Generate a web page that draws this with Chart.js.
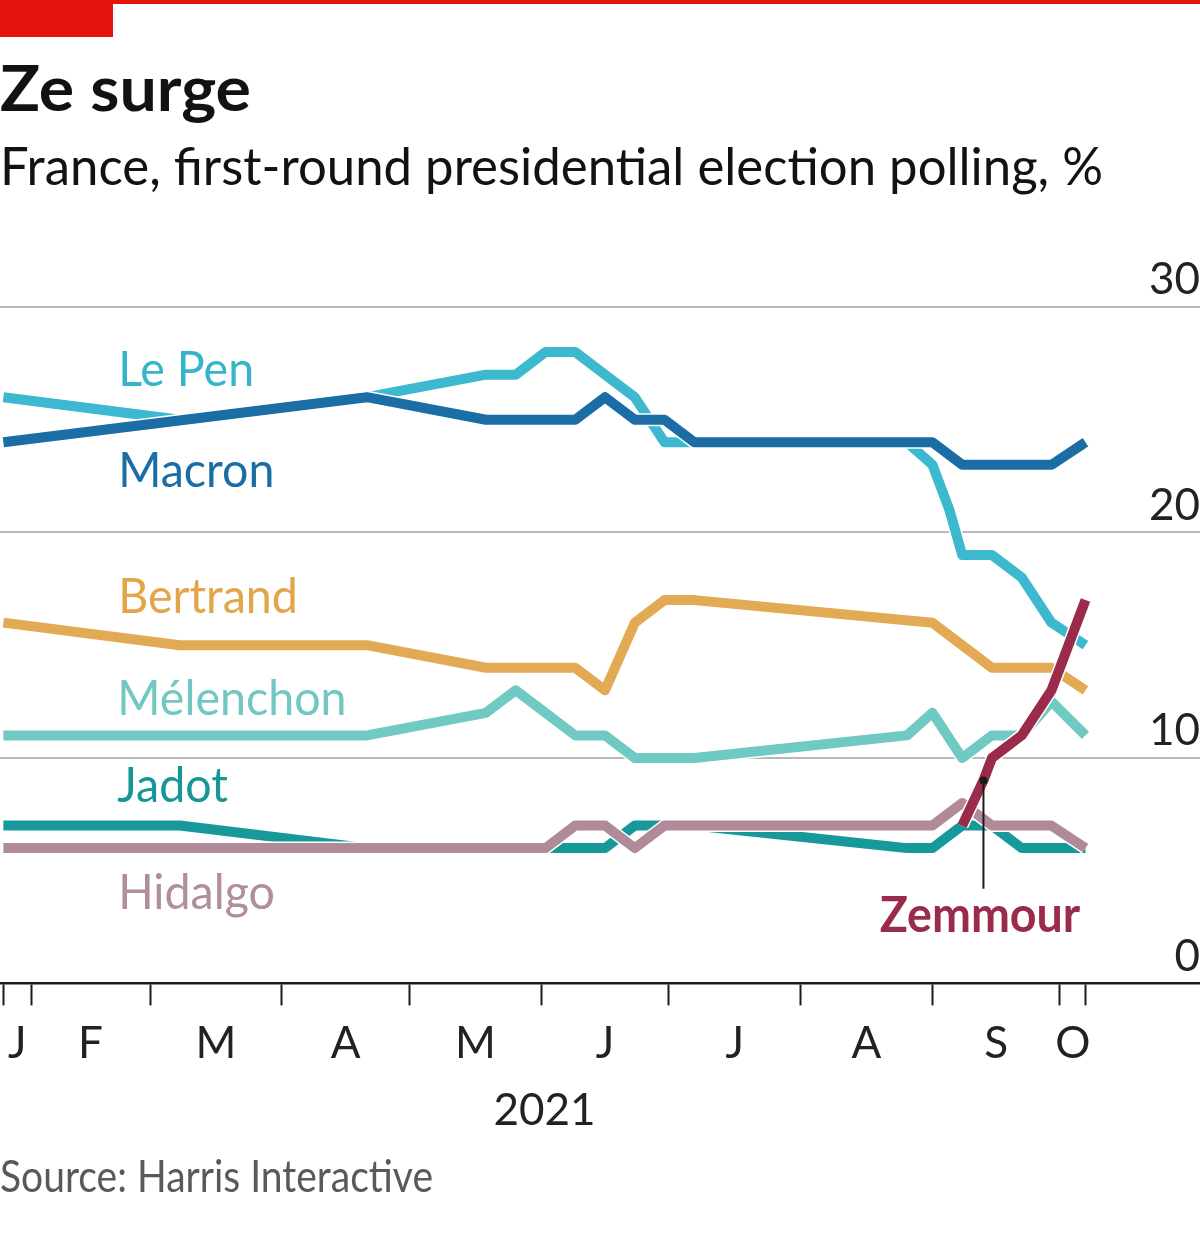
<!DOCTYPE html>
<html>
<head>
<meta charset="utf-8">
<script src="https://cdn.jsdelivr.net/npm/chart.js@4.4.1/dist/chart.umd.min.js"></script>
<style>
  html, body { margin: 0; padding: 0; background: #fff; }
  body { width: 1200px; height: 1238px; position: relative; overflow: hidden; font-family: Lato, "Open Sans", sans-serif; }
  .red-line { position: absolute; left: 0; top: 0; width: 1200px; height: 4px; background: #e3120b; }
  .red-tag { position: absolute; left: 0; top: 0; width: 113px; height: 37px; background: #e3120b; }
  .txt { position: absolute; left: 0; white-space: nowrap; line-height: 1; transform-origin: 0 0; }
  #title { top: 55px; font-size: 63px; font-weight: 700; color: #121212; }
  #subtitle { top: 139px; font-size: 52px; color: #121212; }
  #source { top: 1153px; font-size: 44px; color: #595959; }
  #wrap { position: absolute; left: 0; top: 240px; width: 1200px; height: 920px; }
</style>
</head>
<body>
<div class="red-line"></div>
<div class="red-tag"></div>
<div id="title" class="txt" data-w="251">Ze surge</div>
<div id="subtitle" class="txt" data-w="1103">France, first-round presidential election polling, %</div>
<div id="wrap"><canvas id="chart" width="1200" height="920"></canvas></div>
<div id="source" class="txt" data-w="433">Source: Harris Interactive</div>

<script>
// ===== data (x = day of year 2021, 0 = Jan 1) =====
const pollDays = [24.5, 66, 110, 138, 145, 152, 159, 166, 173, 180, 187, 237, 243, 247, 250, 255, 257, 264, 271, 279];
const macron    = [24, null, 26, 25, null, null, 25, 26, 25, 25, 24, null, 24, null, 23, null, null, null, 23, 24];
const lePen     = [26, 25, 26, 27, 27, 28, 28, null, 26, 24, 24, 24, 23, 21, 19, null, 19, 18, 16, 15];
const bertrand  = [16, 15, 15, 14, null, null, 14, 13, 16, 17, 17, null, 16, null, null, null, 14, null, 14, 13];
const melenchon = [11, 11, 11, 12, 13, null, 11, 11, 10, null, 10, 11, 12, null, 10, null, 11, 11, 12.5, 11];
const jadot     = [7, 7, 6, null, null, 6, 6, 6, 7, 7, 7, 6, 6, null, 7, null, 7, 6, 6, 6];
const hidalgo   = [6, null, 6, null, null, 6, 7, 7, 6, 7, null, null, 7, null, 8, null, 7, null, 7, 6];
const zemmour   = [null, null, null, null, null, null, null, null, null, null, null, null, null, null, 7, 9, 10, 11, 13, 17];

// axis ticks
const tickDays = [24.5, 31, 59, 90, 120, 151, 181, 212, 243, 273, 279];
const monthLabels = ['J', 'F', 'M', 'A', 'M', 'J', 'J', 'A', 'S', 'O'];
const yTicks = [0, 10, 20, 30];
const yearLabel = '2021';

// ===== header/footer text widths =====
document.querySelectorAll('.txt').forEach(el => {
    const w = el.getBoundingClientRect().width;
    el.style.transform = 'scaleX(' + (el.dataset.w / w) + ')';
});

function pts(vals) {
    return pollDays.map((d, i) => ({x: d, y: vals[i]})).filter(p => p.y !== null);
}

// label centres between month ticks, year centred on the polling span
const labelDays = tickDays.slice(0, -1).map((d, i) => (d + tickDays[i + 1]) / 2);
const yearDay = (pollDays[0] + pollDays[pollDays.length - 1]) / 2;

const series = [
    {name: 'Zemmour',   vals: zemmour,   color: '#9b2b4a', order: 0},
    {name: 'Macron',    vals: macron,    color: '#1b6ea5', order: 1},
    {name: 'Hidalgo',   vals: hidalgo,   color: '#b08a99', order: 2},
    {name: 'Le Pen',    vals: lePen,     color: '#3cb8cf', order: 3},
    {name: 'Jadot',     vals: jadot,     color: '#17989a', order: 4},
    {name: 'Bertrand',  vals: bertrand,  color: '#e2aa55', order: 5},
    {name: 'Mélenchon', vals: melenchon, color: '#70c9c3', order: 6}
];

// text labels, placed in data units
const seriesLabels = [
    {text: 'Le Pen',    day: 51.5, value: 26.5,  color: '#36b4cb'},
    {text: 'Macron',    day: 51.5, value: 22.0,  color: '#1b6ea5'},
    {text: 'Bertrand',  day: 51.5, value: 16.45, color: '#e2a548'},
    {text: 'Mélenchon', day: 51.3, value: 11.9,  color: '#72c7c2'},
    {text: 'Jadot',     day: 51.3, value: 8.05,  color: '#179697'},
    {text: 'Hidalgo',   day: 51.5, value: 3.3,   color: '#b08e9c'},
    {text: 'Zemmour',   day: 254.2, value: 2.26, color: '#9b2b4a', bold: true, align: 'center'}
];
const zemmourDotDay = 255;

const font = {family: 'Lato', size: 44};
const ink = '#222';

// white halo under each line
const haloPlugin = {
    id: 'halo',
    beforeDatasetDraw(chart, args) {
        const el = args.meta.dataset;
        const ctx = chart.ctx;
        ctx.save();
        const a = chart.chartArea;
        ctx.beginPath();
        ctx.rect(a.left, a.top - 10, a.right - a.left, a.bottom - a.top + 20);
        ctx.clip();
        ctx.beginPath();
        el.path(ctx);
        ctx.strokeStyle = '#fff';
        ctx.lineWidth = 13;
        ctx.lineJoin = 'round';
        ctx.stroke();
        ctx.restore();
    }
};

const labelPlugin = {
    id: 'seriesLabels',
    afterDatasetsDraw(chart) {
        const {ctx, scales: {x, y}} = chart;
        ctx.save();
        ctx.textBaseline = 'alphabetic';
        seriesLabels.forEach(l => {
            ctx.font = (l.bold ? '700 ' : '400 ') + '49px Lato';
            ctx.fillStyle = l.color;
            ctx.textAlign = l.align || 'left';
            ctx.save();
            ctx.translate(x.getPixelForValue(l.day), y.getPixelForValue(l.value));
            ctx.scale(0.95, 1);
            ctx.fillText(l.text, 0, 0);
            ctx.restore();
        });
        // zemmour pointer
        const i = pollDays.indexOf(zemmourDotDay);
        const px = x.getPixelForValue(pollDays[i]);
        const py = y.getPixelForValue(zemmour[i]);
        ctx.strokeStyle = '#1a1a1a';
        ctx.lineWidth = 2;
        ctx.beginPath();
        ctx.moveTo(px, py);
        ctx.lineTo(px, y.getPixelForValue(4.2));
        ctx.stroke();
        ctx.fillStyle = '#1a1a1a';
        ctx.beginPath();
        ctx.arc(px, py, 4, 0, Math.PI * 2);
        ctx.fill();
        ctx.restore();
    }
};

const pxPerDay = 4.252;
const xMin = 31 - 31 / pxPerDay;
const xMax = 31 + 1169 / pxPerDay;

new Chart(document.getElementById('chart'), {
    type: 'line',
    data: {
        datasets: series.map(s => ({
            label: s.name,
            data: pts(s.vals),
            borderColor: s.color,
            borderWidth: 10,
            borderJoinStyle: 'round',
            borderCapStyle: 'butt',
            pointRadius: 0,
            tension: 0,
            spanGaps: true,
            order: s.order,
            xAxisID: 'x',
            yAxisID: 'y'
        }))
    },
    options: {
        responsive: false,
        animation: false,
        layout: {padding: {top: 67, bottom: 23, left: 0, right: 0}},
        plugins: {legend: {display: false}, tooltip: {enabled: false}},
        scales: {
            x: {
                type: 'linear', position: 'bottom', min: xMin, max: xMax,
                afterBuildTicks: s => { s.ticks = tickDays.map(v => ({value: v})); },
                ticks: {display: false},
                grid: {drawOnChartArea: false, drawTicks: true, tickLength: 22, tickColor: '#1a1a1a', tickWidth: 2},
                border: {display: true, color: '#1a1a1a', width: 2.5}
            },
            x2: {
                type: 'linear', position: 'bottom', min: xMin, max: xMax,
                afterBuildTicks: s => { s.ticks = labelDays.map(v => ({value: v})); },
                ticks: {
                    callback: (v, i) => monthLabels[i],
                    font: font, color: ink, padding: 0,
                    maxRotation: 0, autoSkip: false
                },
                grid: {display: true, drawOnChartArea: false, drawTicks: true, tickLength: 12, tickColor: 'rgba(0,0,0,0)'},
                border: {display: false}
            },
            x3: {
                type: 'linear', position: 'bottom', min: xMin, max: xMax,
                afterBuildTicks: s => { s.ticks = [{value: yearDay}]; },
                ticks: {
                    callback: () => yearLabel,
                    font: font, color: ink, padding: 0,
                    maxRotation: 0, autoSkip: false
                },
                grid: {display: true, drawOnChartArea: false, drawTicks: true, tickLength: 14, tickColor: 'rgba(0,0,0,0)'},
                border: {display: false}
            },
            y: {
                position: 'right', min: 0, max: 30,
                afterBuildTicks: s => { s.ticks = yTicks.map(v => ({value: v})); },
                ticks: {mirror: true, padding: 0, labelOffset: -27, font: font, color: ink},
                grid: {
                    color: c => c.tick && c.tick.value === 0 ? 'rgba(0,0,0,0)' : '#b5b9bc',
                    lineWidth: 2, drawTicks: false
                },
                border: {display: false}
            }
        }
    },
    plugins: [haloPlugin, labelPlugin]
});
</script>
</body>
</html>
